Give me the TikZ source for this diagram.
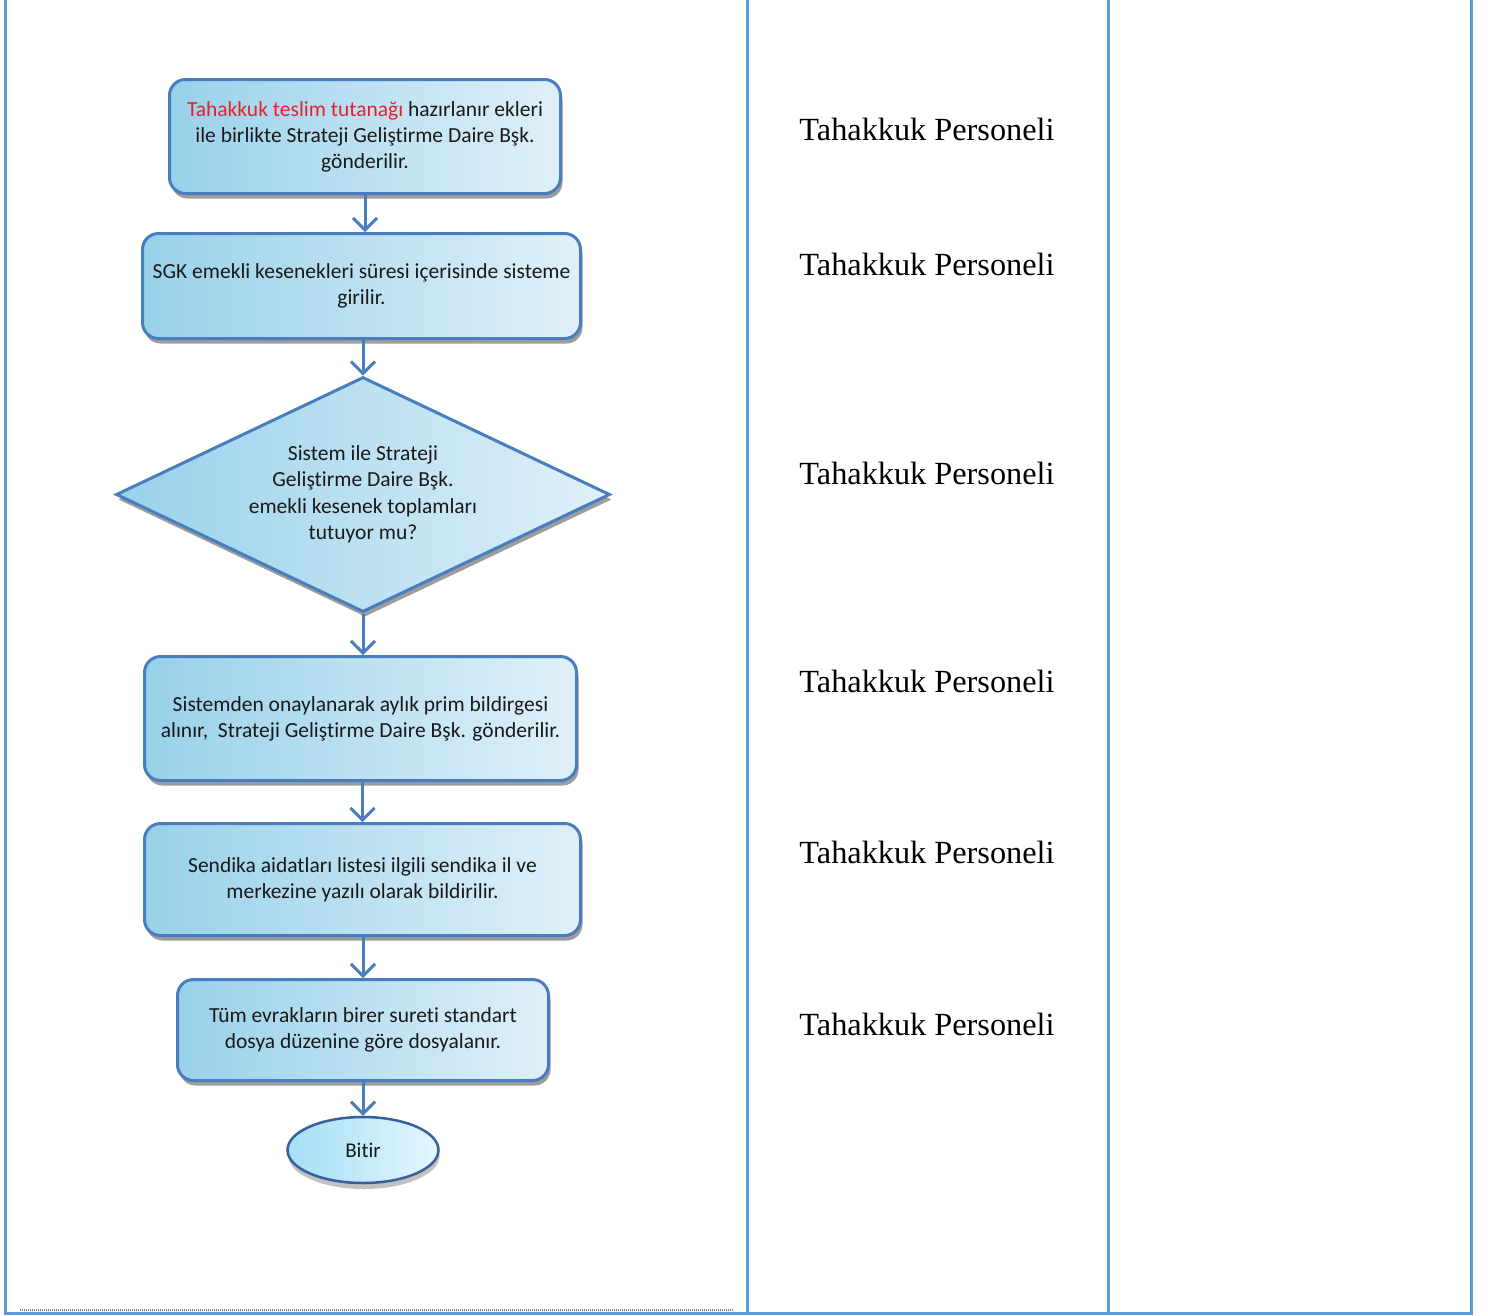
\documentclass[tikz,border=0pt]{standalone}
\usepackage{fontspec}
\setmainfont{Liberation Serif}
\newfontfamily\boxfont[Ligatures=NoCommon]{Carlito}
\usetikzlibrary{shapes.geometric,shadows,arrows.meta}
\definecolor{gridc}{RGB}{91,155,213}
\definecolor{edge}{RGB}{72,125,190}
\definecolor{edgedark}{RGB}{55,95,155}
\definecolor{fillL}{RGB}{152,209,234}
\definecolor{fillR}{RGB}{224,240,249}
\definecolor{ellL}{RGB}{165,223,245}
\definecolor{ellR}{RGB}{228,246,253}
\definecolor{txt}{RGB}{25,25,25}
\definecolor{redtxt}{RGB}{232,32,40}
\begin{document}
\begin{tikzpicture}[x=1pt,y=-1pt,
  boxshadow/.style={drop shadow={shadow xshift=2pt, shadow yshift=-5pt, fill=black!55, opacity=0.7}},
  procbox/.style={rectangle, rounded corners=16pt, draw=edge, line width=3pt,
    left color=fillL, right color=fillR, align=center, inner sep=0pt,
    font={\boxfont\fontsize{21.5}{26}\selectfont}, text=txt, boxshadow},
  decbox/.style={diamond, draw=edge, line width=3pt, aspect=2.1,
    left color=fillL, right color=fillR, align=center, inner sep=0pt,
    font={\boxfont\fontsize{21.5}{26.5}\selectfont}, text=txt, boxshadow},
  endbox/.style={ellipse, draw=edgedark, line width=2.5pt, left color=ellL, right color=ellR,
    inner sep=0pt, font={\boxfont\fontsize{21}{24}\selectfont}, text=txt,
    drop shadow={shadow xshift=1pt, shadow yshift=-6pt, fill=black!40, opacity=0.6}},
  flow/.style={draw=edge, line width=3pt, -{Straight Barb[length=12pt,width=24pt,line width=3pt]}},
  role/.style={font={\fontsize{32.3}{36}\selectfont}, text=black, inner sep=0pt},
  gridline/.style={draw=gridc, line width=3pt}
]
\useasboundingbox (0,0) rectangle (1488,1315);
\fill[white] (0,0) rectangle (1488,1315);

% table lines
\draw[gridline] (5,0) -- (5,1313) -- (1471,1313) -- (1471,0);
\draw[gridline] (747,0) -- (747,1313);
\draw[gridline] (1108,0) -- (1108,1313);
\draw[gray, line width=1.5pt, dash pattern=on 1pt off 1pt] (20,1310) -- (733,1310);

% flowchart
\node[procbox, minimum width=391pt, minimum height=114pt] (b1) at (365,136.5)
  {{\color{redtxt}Tahakkuk teslim tutanağı} hazırlanır ekleri\\ile birlikte Strateji Geliştirme Daire Bşk.\\gönderilir.};
\node[procbox, minimum width=438pt, minimum height=105pt] (b2) at (361.5,286)
  {SGK emekli kesenekleri süresi içerisinde sisteme\\girilir.};
\node[decbox, minimum width=494pt, minimum height=235pt] (d) at (363,494.5)
  {Sistem ile Strateji\\Geliştirme Daire Bşk.\\emekli kesenek toplamları\\tutuyor mu?};
\node[procbox, minimum width=432pt, minimum height=124pt] (b3) at (360.5,718.5)
  {Sistemden onaylanarak aylık prim bildirgesi\\alınır,\ \ Strateji Geliştirme Daire Bşk. gönderilir.};
\node[procbox, minimum width=436pt, minimum height=112pt] (b4) at (362.5,879.5)
  {Sendika aidatları listesi ilgili sendika il ve\\merkezine yazılı olarak bildirilir.};
\node[procbox, minimum width=371pt, minimum height=101pt] (b5) at (363,1030)
  {Tüm evrakların birer sureti standart\\dosya düzenine göre dosyalanır.};
\node[endbox, minimum width=151pt, minimum height=66pt] (e) at (363,1150) {Bitir};

\draw[flow] (b1.south) -- (b1.south |- b2.north);
\draw[flow] (b2.south -| d.north) -- (d.north);
\draw[flow] (d.south) -- (d.south |- b3.north);
\draw[flow] (b3.south -| b4.north) -- (b4.north);
\draw[flow] (b4.south -| b5.north) -- (b5.north);
\draw[flow] (b5.south) -- (e.north);

% responsible column
\node[role] (r1) at (927,129) {Tahakkuk Personeli};
\node[role] (r2) at (927,264) {Tahakkuk Personeli};
\node[role] (r3) at (927,473) {Tahakkuk Personeli};
\node[role] (r4) at (927,681) {Tahakkuk Personeli};
\node[role] (r5) at (927,852) {Tahakkuk Personeli};
\node[role] (r6) at (927,1024) {Tahakkuk Personeli};
\end{tikzpicture}
\end{document}
